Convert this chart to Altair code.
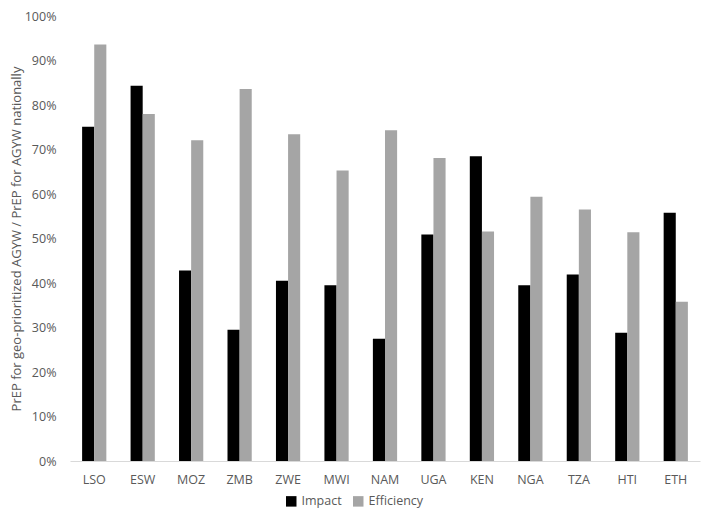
import altair as alt
import pandas as pd

countries = ["LSO", "ESW", "MOZ", "ZMB", "ZWE", "MWI", "NAM", "UGA", "KEN", "NGA", "TZA", "HTI", "ETH"]
impact = [75.1, 84.3, 42.8, 29.5, 40.5, 39.5, 27.5, 50.9, 68.5, 39.5, 41.9, 28.8, 55.8]
efficiency = [93.6, 78.0, 72.1, 83.6, 73.4, 65.3, 74.3, 68.1, 51.6, 59.4, 56.5, 51.4, 35.8]
series = ["Impact", "Efficiency"]
colors = ["#000000", "#a5a5a5"]

rows = []
for c, i, e in zip(countries, impact, efficiency):
    rows.append({"country": c, "series": "Impact", "value": i / 100})
    rows.append({"country": c, "series": "Efficiency", "value": e / 100})
df = pd.DataFrame(rows)

FONT = "Open Sans"
GRAY = "#595959"

chart = alt.Chart(df).mark_bar().encode(
    x=alt.X("country:N", sort=countries, title=None,
            scale=alt.Scale(paddingInner=0.5, paddingOuter=0.25),
            axis=alt.Axis(labelAngle=0, ticks=False, domainColor="#d9d9d9",
                          labelColor=GRAY, labelFont=FONT, labelFontSize=12.5,
                          labelPadding=12)),
    xOffset=alt.XOffset("series:N", sort=series),
    y=alt.Y("value:Q", title="PrEP for geo-prioritized AGYW / PrEP for AGYW nationally",
            scale=alt.Scale(domain=[0, 1]),
            axis=alt.Axis(format=".0%", values=[i / 10 for i in range(11)], grid=False,
                          domain=False, ticks=False, labelColor=GRAY, labelFont=FONT,
                          labelFontSize=12.5, labelPadding=14, titleColor=GRAY,
                          titleFont=FONT, titleFontSize=13, titleFontWeight="normal",
                          titlePadding=1)),
    color=alt.Color("series:N", sort=series,
                    scale=alt.Scale(domain=series, range=colors),
                    legend=alt.Legend(title=None, orient="none", direction="horizontal",
                                      legendX=215, legendY=479, symbolType="square",
                                      symbolSize=110, symbolStrokeWidth=0,
                                      labelColor=GRAY, labelFont=FONT, labelFontSize=12.5,
                                      columnPadding=10)),
).properties(
    width=630, height=445,
    autosize=alt.AutoSizeParams(type="none"),
    padding={"left": 62, "top": 8, "right": 1, "bottom": 49},
).configure_view(stroke=None)

chart.save("out.html", embed_options={"renderer": "svg", "actions": False})
